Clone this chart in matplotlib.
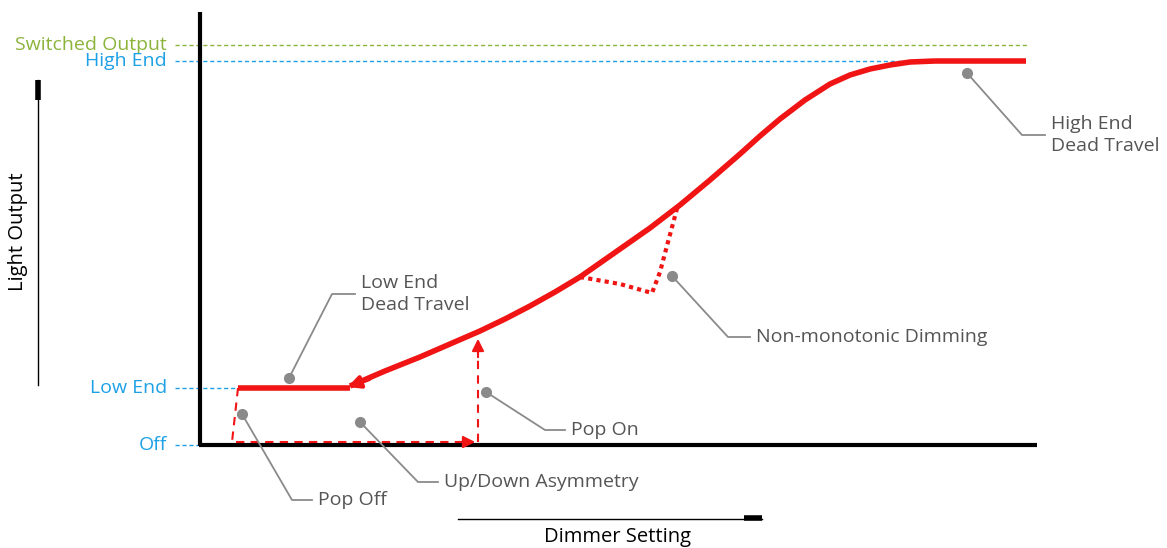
import matplotlib.pyplot as plt

# diagram in pixel space (y grows downward)
level_names = ["Switched Output", "High End", "Low End", "Off"]
level_y = [45, 61, 388, 445]
level_end = [1028, 935, 238, 200]
level_col = ["#8cb43c", "#1ea0e6", "#1ea0e6", "#1ea0e6"]

curve_x = [350, 385, 420, 450, 480, 505, 530, 555, 580, 600, 620, 650, 680, 710, 740,
           760, 780, 805, 830, 850, 870, 890, 910, 935]
curve_y = [386, 371, 357, 344, 331, 319, 306, 292, 277, 263, 249, 228, 205, 180, 154,
           136, 119, 100, 84, 75, 69, 65, 62, 61]
high_flat_x = [935, 1026]
low_flat_x = [238, 350]

dip_x = [580, 620, 652, 660, 668, 678]
dip_y = [277, 284, 293, 272, 242, 205]

notes = [
    ("Low End\nDead Travel", (289, 378), (332, 294), 355),
    ("High End\nDead Travel", (967, 73), (1022, 135), 1045),
    ("Non-monotonic Dimming", (672, 276), (728, 337), 750),
    ("Pop On", (486, 392), (545, 430), 565),
    ("Up/Down Asymmetry", (360, 422), (418, 482), 438),
    ("Pop Off", (242, 414), (292, 500), 312),
]

plt.rcParams['font.family'] = ['Open Sans', 'DejaVu Sans']
fig = plt.figure(figsize=(11.67, 5.48), dpi=100)
ax = fig.add_axes([0, 0, 1, 1])
ax.set_xlim(0, 1167)
ax.set_ylim(548, 0)
ax.axis('off')

red = "#f01414"
grey = "#8a8a8a"
fs = 14

for name, y, xe, c in zip(level_names, level_y, level_end, level_col):
    ax.plot([175, xe], [y, y], ls=(0, (3, 2)), color=c, lw=1)
    ax.text(167, y, name, color=c, ha='right', va='center', fontsize=fs)

# main axes
ax.plot([200, 200], [12, 446], color='black', lw=3, solid_capstyle='butt')
ax.plot([199, 1037], [445, 445], color='black', lw=3, solid_capstyle='butt')

# side labels
ax.plot([38, 38], [80, 385], color='black', lw=1)
ax.plot([38, 38], [80, 100], color='black', lw=4, solid_capstyle='butt')
ax.text(18, 232, "Light Output", rotation=90, ha='center', va='center', fontsize=fs + 0.5)
ax.plot([458, 762], [519, 519], color='black', lw=1)
ax.plot([744, 762], [518, 518], color='black', lw=4, solid_capstyle='butt')
ax.text(617, 537, "Dimmer Setting", ha='center', va='center', fontsize=fs + 0.5)

# red curve
ax.plot(curve_x, curve_y, color=red, lw=4, solid_capstyle='butt', solid_joinstyle='round')
ax.plot(high_flat_x, [61, 61], color=red, lw=4, solid_capstyle='butt')
ax.plot(low_flat_x, [388, 388], color=red, lw=4, solid_capstyle='butt')
ax.annotate("", xy=(345, 388), xytext=(372, 378),
            arrowprops=dict(arrowstyle='-|>', color=red, lw=3, mutation_scale=18))
ax.plot(dip_x, dip_y, color=red, lw=3, ls=(0, (1, 1)))

# pop off / pop on dashed path
ax.plot([238, 232, 232, 470], [388, 442, 442, 442], color=red, lw=1.5, ls=(0, (4, 3)))
ax.annotate("", xy=(478, 442), xytext=(455, 442),
            arrowprops=dict(arrowstyle='-|>', color=red, lw=1.5, mutation_scale=18))
ax.plot([478, 478], [442, 350], color=red, lw=1.5, ls=(0, (4, 3)))
ax.annotate("", xy=(478, 336), xytext=(478, 360),
            arrowprops=dict(arrowstyle='-|>', color=red, lw=1.5, mutation_scale=18))

for text, dot, bend, tx in notes:
    ax.plot([dot[0], bend[0], tx], [dot[1], bend[1], bend[1]], color=grey, lw=1.3)
    ax.plot(*dot, 'o', color=grey, ms=7)
    ax.text(tx + 6, bend[1], text, color='#555555', ha='left', va='center',
            fontsize=fs, linespacing=1.25)

fig.savefig("out.png", dpi=100)
